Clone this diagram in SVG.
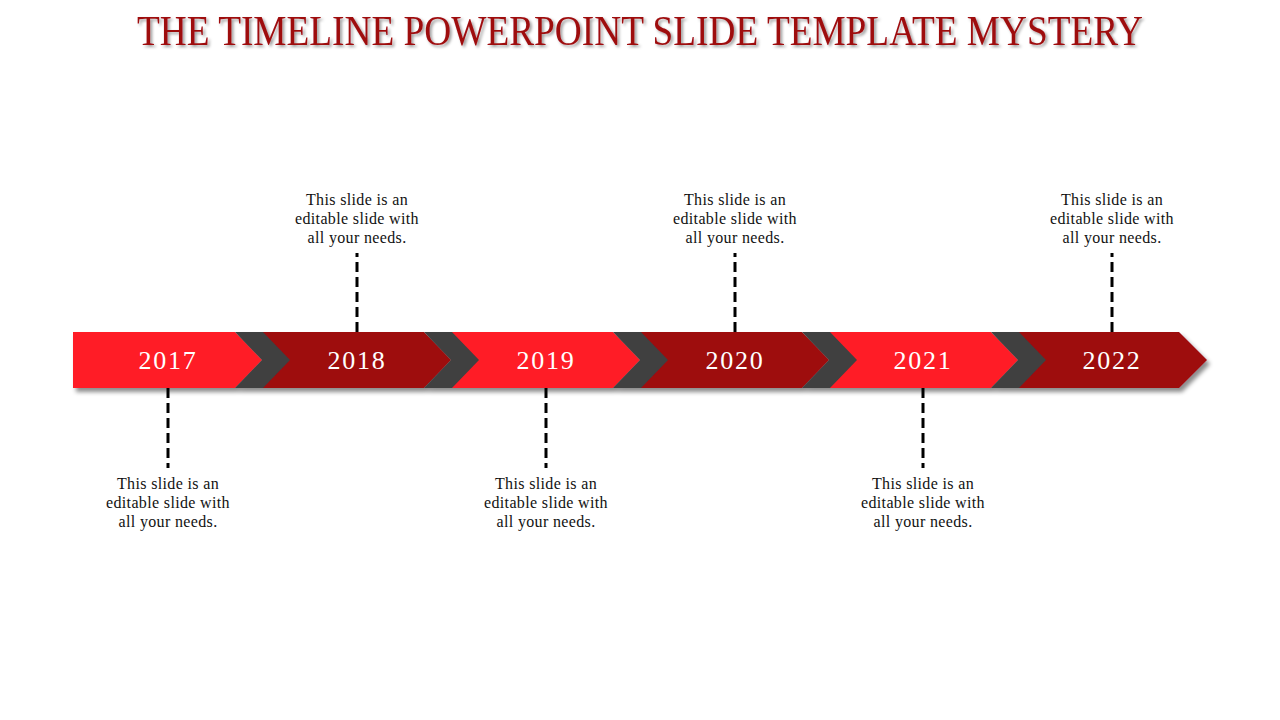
<svg xmlns="http://www.w3.org/2000/svg" width="1280" height="720" viewBox="0 0 1280 720">
<defs>
<filter id="sh" x="-10%" y="-30%" width="120%" height="170%">
<feDropShadow dx="3" dy="4" stdDeviation="2" flood-color="#000" flood-opacity="0.45"/>
</filter>
<filter id="tsh" x="-5%" y="-30%" width="110%" height="170%">
<feDropShadow dx="2" dy="2" stdDeviation="1.5" flood-color="#000" flood-opacity="0.4"/>
</filter>
<style>
.bright{fill:#FF1C25}
.dark{fill:#9E0A10}
.chev{fill:#404040}
.year{font-family:"Liberation Serif","DejaVu Serif",serif;font-size:26px;fill:#fff;text-anchor:middle;letter-spacing:1.8px}
.note{font-family:"Liberation Serif","DejaVu Serif",serif;font-size:16px;fill:#111;text-anchor:middle;letter-spacing:0.35px}
.dash{stroke:#000;stroke-width:3;stroke-dasharray:10 5;fill:none}
.title{font-family:"Liberation Serif","DejaVu Serif",serif;font-size:42px;fill:#9E0A10;text-anchor:middle}
</style>
</defs>
<rect width="1280" height="720" fill="#fff"/>
<text class="title" x="640" y="45" textLength="1006" lengthAdjust="spacingAndGlyphs" filter="url(#tsh)">THE TIMELINE POWERPOINT SLIDE TEMPLATE MYSTERY</text>

<g id="connectors">
<path class="dash" d="M357 332V253"/>
<path class="dash" d="M735 332V253"/>
<path class="dash" d="M1112 332V253"/>
<path class="dash" d="M168 388V468"/>
<path class="dash" d="M546 388V468"/>
<path class="dash" d="M923 388V468"/>
</g>

<g id="bar" filter="url(#sh)">
<polygon class="bright" points="73,332 235,332 262,360 235,388 73,388"/>
<polygon class="dark" points="262,332 424,332 451,360 424,388 262,388"/>
<polygon class="bright" points="451,332 613,332 640,360 613,388 451,388"/>
<polygon class="dark" points="640,332 802,332 829,360 802,388 640,388"/>
<polygon class="bright" points="829,332 991,332 1018,360 991,388 829,388"/>
<polygon class="dark" points="1018,332 1179,332 1207,360 1179,388 1018,388"/>
<polygon class="chev" points="235,332 263,332 290,360 263,388 235,388 262,360"/>
<polygon class="chev" points="424,332 452,332 479,360 452,388 424,388 451,360"/>
<polygon class="chev" points="613,332 641,332 668,360 641,388 613,388 640,360"/>
<polygon class="chev" points="802,332 830,332 857,360 830,388 802,388 829,360"/>
<polygon class="chev" points="991,332 1019,332 1046,360 1019,388 991,388 1018,360"/>
</g>

<g id="node-2017">
<text class="year" x="168" y="369">2017</text>
<text class="note" x="168" y="489">This slide is an</text>
<text class="note" x="168" y="508">editable slide with</text>
<text class="note" x="168" y="527">all your needs.</text>
</g>
<g id="node-2018">
<text class="year" x="357" y="369">2018</text>
<text class="note" x="357" y="205">This slide is an</text>
<text class="note" x="357" y="224">editable slide with</text>
<text class="note" x="357" y="243">all your needs.</text>
</g>
<g id="node-2019">
<text class="year" x="546" y="369">2019</text>
<text class="note" x="546" y="489">This slide is an</text>
<text class="note" x="546" y="508">editable slide with</text>
<text class="note" x="546" y="527">all your needs.</text>
</g>
<g id="node-2020">
<text class="year" x="735" y="369">2020</text>
<text class="note" x="735" y="205">This slide is an</text>
<text class="note" x="735" y="224">editable slide with</text>
<text class="note" x="735" y="243">all your needs.</text>
</g>
<g id="node-2021">
<text class="year" x="923" y="369">2021</text>
<text class="note" x="923" y="489">This slide is an</text>
<text class="note" x="923" y="508">editable slide with</text>
<text class="note" x="923" y="527">all your needs.</text>
</g>
<g id="node-2022">
<text class="year" x="1112" y="369">2022</text>
<text class="note" x="1112" y="205">This slide is an</text>
<text class="note" x="1112" y="224">editable slide with</text>
<text class="note" x="1112" y="243">all your needs.</text>
</g>
</svg>
